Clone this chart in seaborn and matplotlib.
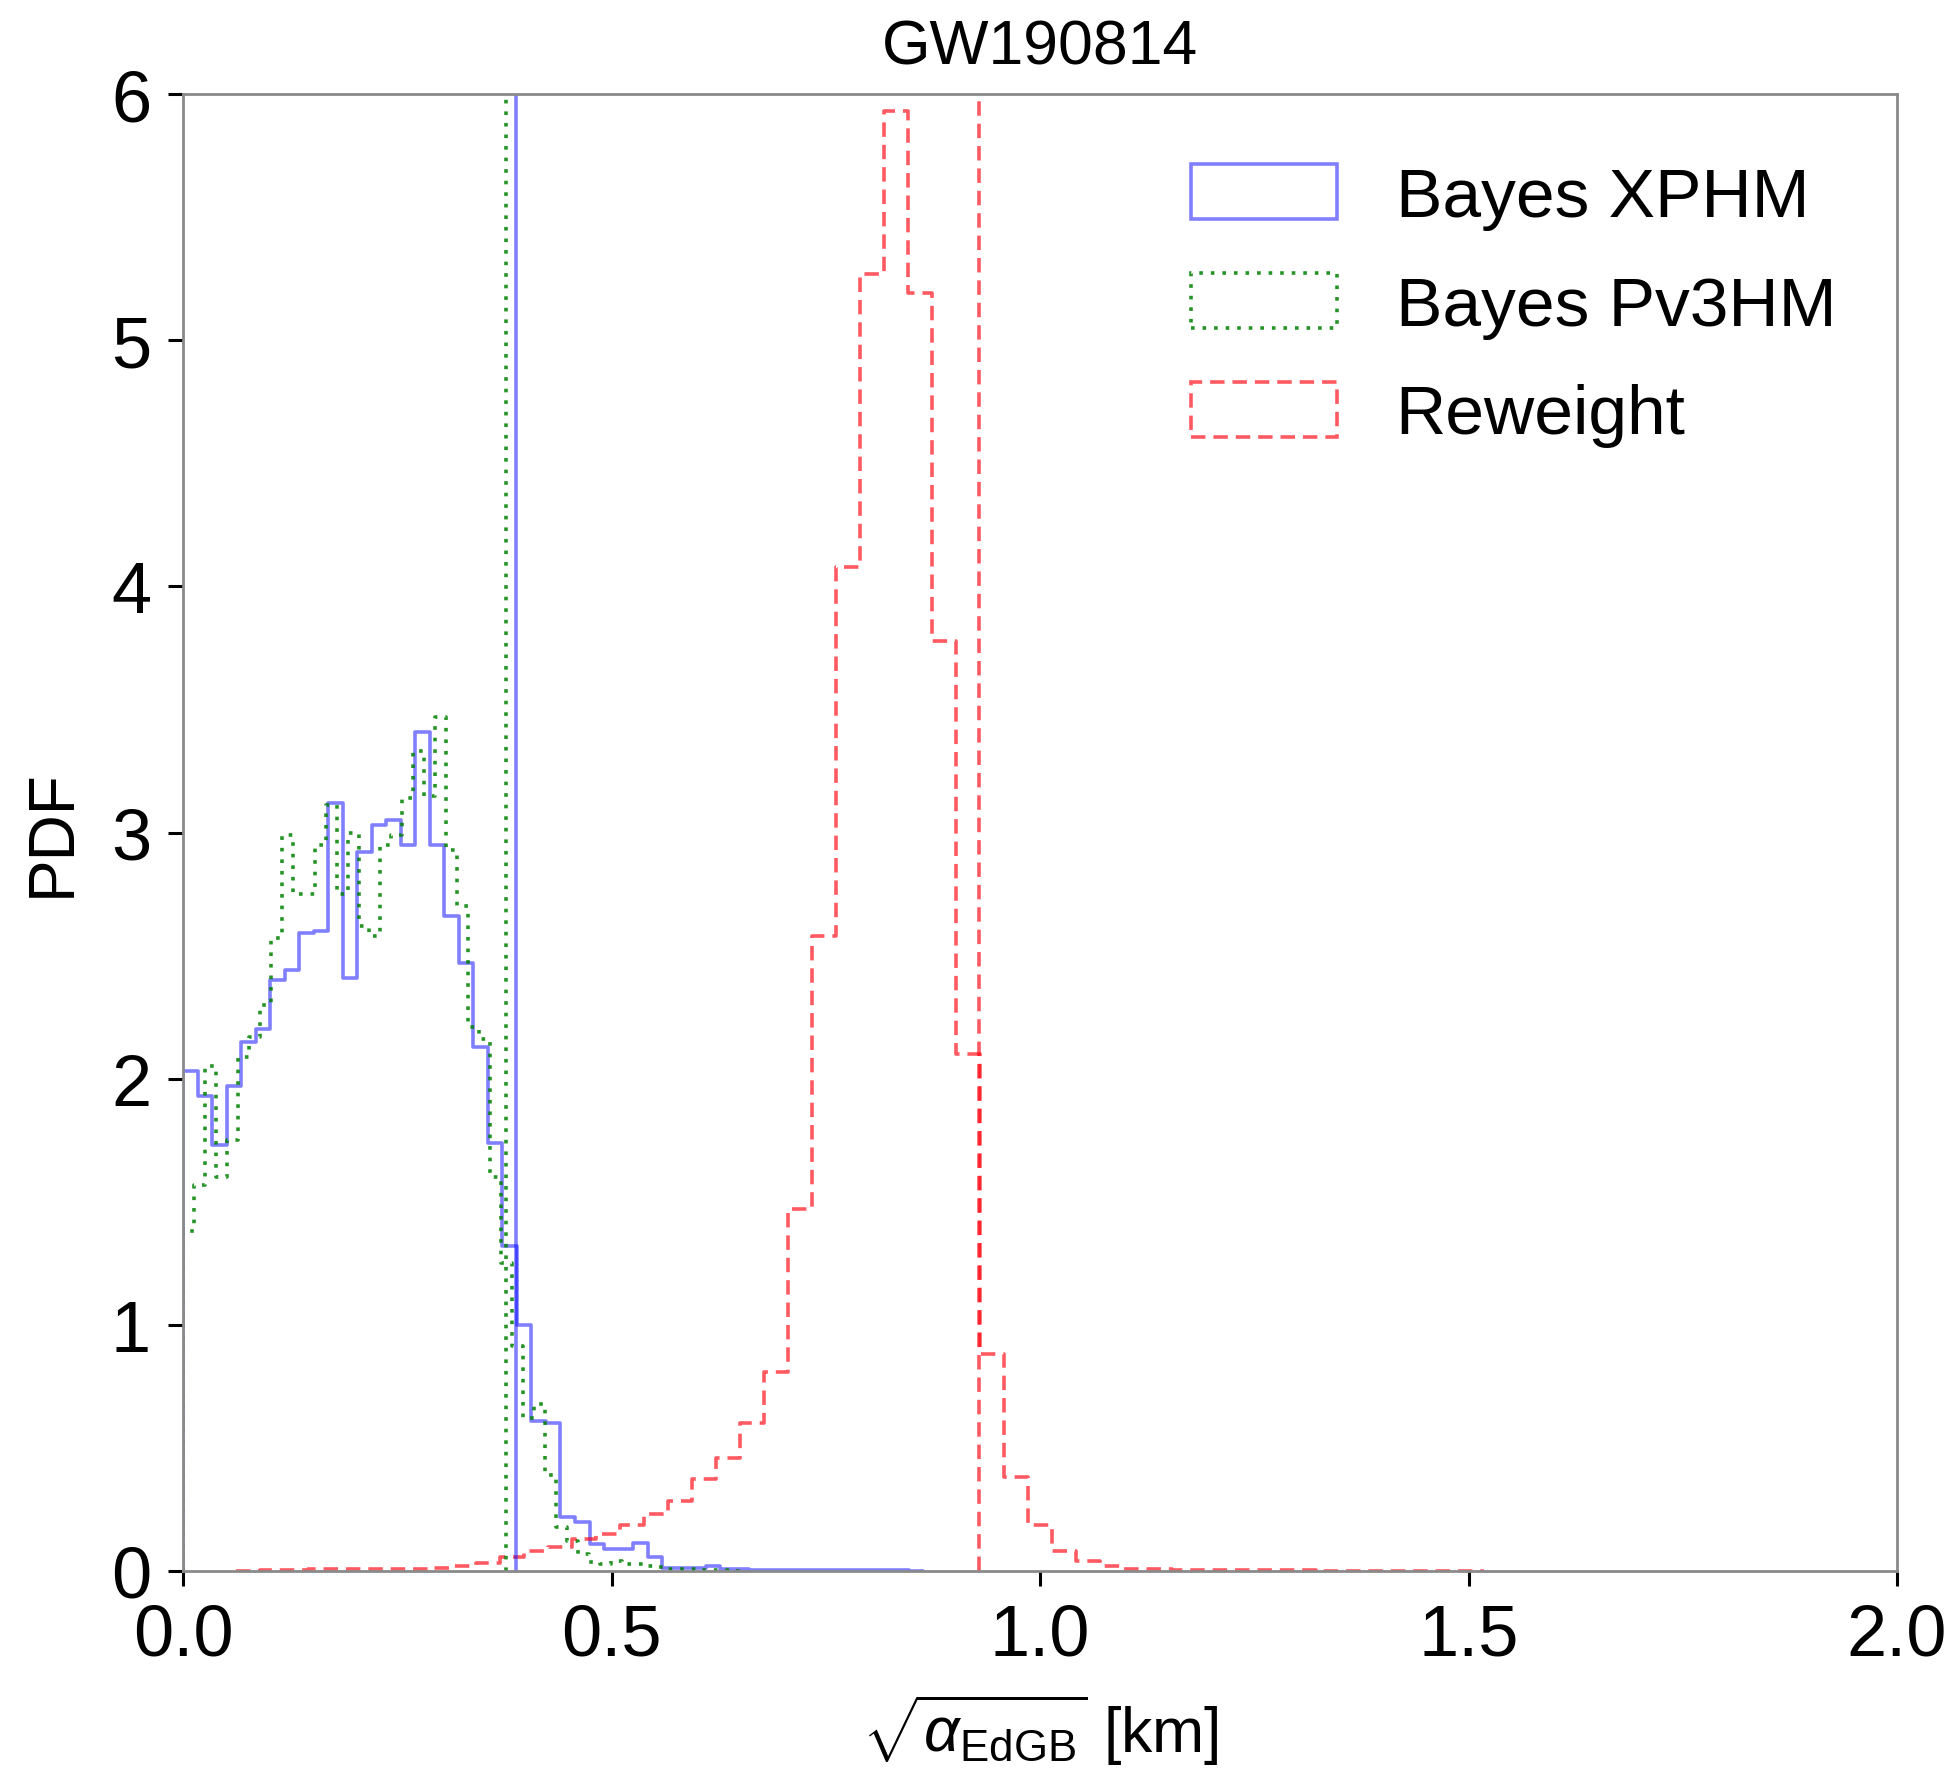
import numpy as np
import pandas as pd
import matplotlib
matplotlib.use("Agg")
import matplotlib.pyplot as plt
from matplotlib.patches import Patch
import seaborn as sns

# ---------------- data ----------------
title = "GW190814"
series_labels = ["Bayes XPHM", "Bayes Pv3HM", "Reweight"]

xphm_range = (0.0, 0.847)
xphm_pdf = [2.03, 1.93, 1.73, 1.97, 2.15, 2.20, 2.40, 2.44, 2.59, 2.60,
            3.12, 2.41, 2.92, 3.03, 3.05, 2.95, 3.41, 2.95, 2.66, 2.47,
            2.13, 1.74, 1.32, 1.00, 0.61, 0.60, 0.22, 0.20, 0.11, 0.088,
            0.088, 0.115, 0.055, 0.014, 0.014, 0.014, 0.022, 0.010, 0.010, 0.006,
            0.006, 0.005, 0.005, 0.004, 0.004, 0.004, 0.005, 0.005, 0.004, 0.004]

pv3hm_range = (0.0, 0.64)
pv3hm_pdf = [1.38, 1.57, 2.05, 1.60, 1.75, 2.09, 2.17, 2.30, 2.57, 2.99,
             2.75, 2.75, 2.95, 3.11, 2.75, 3.00, 2.62, 2.58, 2.95, 2.99,
             3.14, 3.33, 3.15, 3.47, 2.93, 2.70, 2.21, 2.16, 1.60, 1.25,
             0.915, 0.62, 0.68, 0.39, 0.18, 0.12, 0.07, 0.035, 0.03, 0.04,
             0.03, 0.03, 0.02, 0.015, 0.01, 0.01, 0.008, 0.005, 0.005, 0.005]

reweight_range = (0.09, 1.49)
reweight_pdf = [0.006, 0.006, 0.007, 0.007, 0.008, 0.009, 0.010, 0.012, 0.020, 0.034,
                0.058, 0.080, 0.098, 0.128, 0.152, 0.188, 0.230, 0.285, 0.375, 0.460,
                0.600, 0.810, 1.470, 2.580, 4.080, 5.270, 5.930, 5.190, 3.780, 2.100,
                0.880, 0.380, 0.185, 0.080, 0.040, 0.020, 0.010, 0.007, 0.005, 0.004,
                0.004, 0.003, 0.003, 0.003, 0.002, 0.002, 0.002, 0.002, 0.002, 0.002]

upper_bounds = [0.388, 0.377, 0.929]   # 90% upper bounds (vertical lines)
xticks = [0.0, 0.5, 1.0, 1.5, 2.0]
yticks = [0, 1, 2, 3, 4, 5, 6]

# ---------------- styling ----------------
sns.set_style("ticks")
plt.rcParams['font.family'] = ['Liberation Sans', 'DejaVu Sans']
plt.rcParams['mathtext.fontset'] = 'custom'
plt.rcParams['mathtext.rm'] = 'Liberation Sans'
plt.rcParams['mathtext.it'] = 'Liberation Sans:italic'
plt.rcParams['mathtext.bf'] = 'Liberation Sans:bold'
plt.rcParams['text.color'] = 'black'
plt.rcParams['axes.labelcolor'] = 'black'
plt.rcParams['xtick.color'] = 'black'
plt.rcParams['ytick.color'] = 'black'

colors = [(0.0, 0.0, 1.0), (0.0, 0.5, 0.0), (1.0, 0.0, 0.05)]
alphas = [0.5, 0.85, 0.65]
styles = ['-', (0, (1.0, 2.2)), (0, (4.0, 2.2))]
lw = 2.6

fig = plt.figure(figsize=(19.52, 17.81), dpi=100)
ax = fig.add_axes([0.09375, 0.11735, 0.8781, 0.8293])

series = [(xphm_range, xphm_pdf), (pv3hm_range, pv3hm_pdf), (reweight_range, reweight_pdf)]
for (rng, pdf), c, a, ls in zip(series, colors, alphas, styles):
    n = len(pdf)
    w = (rng[1] - rng[0]) / n
    centers = rng[0] + w * (np.arange(n) + 0.5)
    df = pd.DataFrame({"x": centers, "w": np.asarray(pdf, float)})
    # one empty bin added on each side so the outline closes down to zero
    sns.histplot(data=df, x="x", weights="w", bins=n + 2,
                 binrange=(rng[0] - w, rng[1] + w), element="step", fill=False,
                 stat="count", color=c, alpha=a, linestyle=ls, linewidth=lw, ax=ax)

for xb, c, a, ls in zip(upper_bounds, colors, alphas, styles):
    ax.axvline(xb, color=c, alpha=a, linestyle=ls, linewidth=lw)

ax.set_xlim(0, 2)
ax.set_ylim(0, 6)
ax.set_xticks(xticks)
ax.set_xticklabels([f"{t:.1f}" for t in xticks])
ax.set_yticks(yticks)
ax.set_yticklabels([str(t) for t in yticks])

for sp in ax.spines.values():
    sp.set_visible(True)
    sp.set_color('#8a8a8a')
    sp.set_linewidth(2.0)

ax.tick_params(axis='both', which='major', direction='out', length=11, width=2.2,
               color='black', labelcolor='black', labelsize=52, pad=12,
               top=False, right=False)

ax.set_xlabel(r"$\sqrt{\alpha_{\rm EdGB}}$ [km]", fontsize=45, labelpad=16, color='black')
ax.set_ylabel("PDF", fontsize=46, labelpad=20, color='black')
ax.set_title(title, fontsize=45, pad=22, color='black')

handles = [Patch(facecolor='none', edgecolor=c, alpha=a, linestyle=ls, linewidth=lw)
           for c, a, ls in zip(colors, alphas, styles)]
leg = ax.legend(handles, series_labels, loc='upper right', frameon=False, fontsize=50,
                handlelength=2.1, handleheight=0.85, handletextpad=0.85, labelspacing=0.62,
                borderaxespad=0.6, bbox_to_anchor=(1.005, 0.9996))
for t in leg.get_texts():
    t.set_color('black')

fig.savefig("out.png", dpi=100)
